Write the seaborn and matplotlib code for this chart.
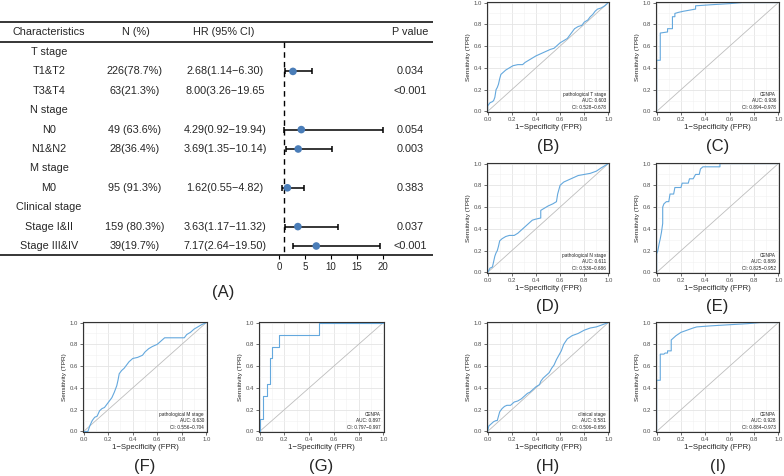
import numpy as np
import pandas as pd
import matplotlib
matplotlib.use("Agg")
import matplotlib.pyplot as plt
import seaborn as sns
from matplotlib.ticker import MultipleLocator, FormatStrFormatter

sns.set_theme(style="ticks")
plt.rcParams['font.family'] = ['Liberation Sans', 'DejaVu Sans']

# ---- forest table (A) ----
characteristics = ["T stage", "T1&T2", "T3&T4", "N stage", "N0", "N1&N2",
                   "M stage", "M0", "Clinical stage", "Stage I&II", "Stage III&IV"]
n_pct = ["", "226(78.7%)", "63(21.3%)", "", "49 (63.6%)", "28(36.4%)",
         "", "95 (91.3%)", "", "159 (80.3%)", "39(19.7%)"]
hr_text = ["", "2.68(1.14\u22126.30)", "8.00(3.26\u221219.65", "", "4.29(0.92\u221219.94)",
           "3.69(1.35\u221210.14)", "", "1.62(0.55\u22124.82)", "", "3.63(1.17\u221211.32)",
           "7.17(2.64\u221219.50)"]
p_text = ["", "0.034", "<0.001", "", "0.054", "0.003", "", "0.383", "", "0.037", "<0.001"]
# T3&T4 has no point drawn in the original figure
hr = [np.nan, 2.68, np.nan, np.nan, 4.29, 3.69, np.nan, 1.62, np.nan, 3.63, 7.17]
hr_lo = [np.nan, 1.14, np.nan, np.nan, 0.92, 1.35, np.nan, 0.55, np.nan, 1.17, 2.64]
hr_hi = [np.nan, 6.30, np.nan, np.nan, 19.94, 10.14, np.nan, 4.82, np.nan, 11.32, 19.50]
hr_ticks = [0, 5, 10, 15, 20]

# ---- ROC curves (FPR, TPR) ----
fpr_b = [0, 0, 0.02, 0.04, 0.05, 0.06, 0.07, 0.08, 0.09, 0.10, 0.11, 0.13, 0.15, 0.18, 0.21, 0.25, 0.29,
         0.31, 0.34, 0.37, 0.40, 0.44, 0.48, 0.52, 0.55, 0.57, 0.60, 0.63, 0.66, 0.68, 0.70, 0.72, 0.75,
         0.78, 0.80, 0.83, 0.85, 0.87, 0.89, 0.91, 0.94, 0.97, 1.0]
tpr_b = [0, 0.05, 0.08, 0.09, 0.10, 0.13, 0.20, 0.22, 0.25, 0.30, 0.34, 0.36, 0.38, 0.40, 0.42, 0.43, 0.43,
         0.45, 0.47, 0.49, 0.51, 0.53, 0.55, 0.57, 0.58, 0.60, 0.63, 0.65, 0.67, 0.70, 0.73, 0.76, 0.78,
         0.79, 0.82, 0.84, 0.87, 0.89, 0.92, 0.94, 0.95, 0.97, 1.0]
fpr_c = [0, 0, 0.03, 0.03, 0.09, 0.09, 0.13, 0.13, 0.15, 0.15, 0.18, 0.22, 0.27, 0.32, 0.32, 0.45, 0.6, 0.7, 1.0]
tpr_c = [0, 0.47, 0.47, 0.72, 0.73, 0.76, 0.76, 0.87, 0.87, 0.90, 0.91, 0.92, 0.93, 0.94, 0.97, 0.98, 0.99, 1.0, 1.0]
fpr_d = [0, 0.01, 0.02, 0.04, 0.05, 0.06, 0.07, 0.08, 0.09, 0.10, 0.12, 0.15, 0.18, 0.22, 0.25, 0.27, 0.29,
         0.31, 0.33, 0.35, 0.37, 0.40, 0.44, 0.44, 0.47, 0.50, 0.54, 0.57, 0.58, 0.60, 0.63, 0.67, 0.71,
         0.75, 0.80, 0.85, 0.90, 0.94, 0.97, 1.0]
tpr_d = [0, 0.02, 0.04, 0.05, 0.10, 0.15, 0.18, 0.20, 0.24, 0.29, 0.31, 0.33, 0.34, 0.34, 0.36, 0.38, 0.40,
         0.42, 0.44, 0.46, 0.48, 0.49, 0.50, 0.57, 0.59, 0.61, 0.63, 0.65, 0.72, 0.80, 0.83, 0.85, 0.87,
         0.89, 0.90, 0.91, 0.93, 0.96, 0.98, 1.0]
fpr_e = [0, 0, 0.01, 0.02, 0.03, 0.04, 0.05, 0.05, 0.06, 0.08, 0.10, 0.11, 0.14, 0.15, 0.20, 0.21, 0.26,
         0.27, 0.30, 0.32, 0.35, 0.36, 0.38, 0.52, 0.52, 1.0]
tpr_e = [0, 0.17, 0.20, 0.26, 0.31, 0.37, 0.45, 0.60, 0.63, 0.65, 0.65, 0.72, 0.72, 0.78, 0.78, 0.82, 0.82,
         0.86, 0.86, 0.90, 0.90, 0.95, 0.97, 0.97, 1.0, 1.0]
fpr_f = [0, 0.035, 0.05, 0.07, 0.09, 0.11, 0.13, 0.15, 0.17, 0.19, 0.21, 0.23, 0.25, 0.27, 0.28, 0.29, 0.31,
         0.33, 0.35, 0.37, 0.40, 0.44, 0.48, 0.50, 0.53, 0.56, 0.60, 0.64, 0.66, 0.72, 0.78, 0.82, 0.84,
         0.87, 0.90, 0.93, 0.96, 1.0]
tpr_f = [0, 0, 0.05, 0.10, 0.13, 0.14, 0.19, 0.21, 0.22, 0.25, 0.28, 0.31, 0.36, 0.42, 0.47, 0.53, 0.56,
         0.58, 0.61, 0.64, 0.67, 0.68, 0.70, 0.73, 0.76, 0.78, 0.80, 0.84, 0.86, 0.86, 0.86, 0.86, 0.89,
         0.91, 0.94, 0.96, 0.98, 1.0]
fpr_g = [0, 0, 0.027, 0.027, 0.06, 0.06, 0.085, 0.085, 0.10, 0.10, 0.16, 0.16, 0.48, 0.48, 1.0]
tpr_g = [0, 0.11, 0.11, 0.33, 0.33, 0.44, 0.44, 0.67, 0.67, 0.78, 0.78, 0.89, 0.89, 1.0, 1.0]
fpr_h = [0, 0.01, 0.03, 0.05, 0.07, 0.08, 0.09, 0.10, 0.12, 0.14, 0.16, 0.19, 0.22, 0.25, 0.28, 0.30, 0.33,
         0.35, 0.37, 0.40, 0.43, 0.44, 0.46, 0.49, 0.51, 0.53, 0.55, 0.57, 0.59, 0.61, 0.63, 0.66, 0.70,
         0.75, 0.80, 0.85, 0.90, 0.95, 1.0]
tpr_h = [0, 0.05, 0.07, 0.09, 0.10, 0.10, 0.14, 0.18, 0.21, 0.23, 0.24, 0.24, 0.27, 0.28, 0.30, 0.32, 0.35,
         0.36, 0.38, 0.41, 0.43, 0.46, 0.49, 0.52, 0.54, 0.58, 0.61, 0.66, 0.70, 0.74, 0.80, 0.85, 0.88,
         0.90, 0.93, 0.95, 0.96, 0.98, 1.0]
fpr_i = [0, 0, 0.03, 0.03, 0.06, 0.07, 0.09, 0.09, 0.12, 0.12, 0.14, 0.16, 0.20, 0.25, 0.30, 0.33, 0.45,
         0.60, 0.75, 0.85, 1.0]
tpr_i = [0, 0.47, 0.47, 0.71, 0.71, 0.72, 0.72, 0.74, 0.74, 0.84, 0.86, 0.88, 0.91, 0.93, 0.95, 0.96, 0.97,
         0.98, 0.99, 1.0, 1.0]

W, H = 784, 476
fig = plt.figure(figsize=(W / 100, H / 100), dpi=100)


def px_axes(x0, y0, x1, y1):
    return fig.add_axes([x0 / W, 1 - y1 / H, (x1 - x0) / W, (y1 - y0) / H])


# ---- (A) table ----
row_px0, row_step = 52, 19.4
rows = np.arange(len(characteristics))


def to_row(ypx):
    return (ypx - row_px0) / row_step


tab = px_axes(0, 0, 440, 280)
tab.set_xlim(0, 440)
tab.set_ylim(to_row(280), to_row(0))
tab.axis("off")
fs = 7.8
head_y = to_row(32)
for x, s in [(49, "Characteristics"), (136, "N (%)"), (224, "HR (95% CI)"), (410, "P value")]:
    tab.text(x, head_y, s, ha="center", va="center", fontsize=fs)
for i in rows:
    tab.text(49, i, characteristics[i], ha="center", va="center", fontsize=fs)
    tab.text(135, i, n_pct[i], ha="center", va="center", fontsize=fs)
    tab.text(225, i, hr_text[i], ha="center", va="center", fontsize=fs)
    tab.text(410, i, p_text[i], ha="center", va="center", fontsize=fs)
for ypx in (22, 42, 255):
    tab.plot([0, 433], [to_row(ypx)] * 2, color="black", lw=1.1, solid_capstyle="butt")

fax = px_axes(279, 22, 383, 255)
fax.set_xlim(0, 20)
fax.set_ylim(to_row(255), to_row(22))
fax.patch.set_alpha(0)
for sp in fax.spines.values():
    sp.set_visible(False)
fax.set_yticks([])
fax.set_xticks(hr_ticks)
fax.tick_params(axis="x", length=3, width=0.8, labelsize=7, pad=2, color="black")
fax.plot([1, 1], [to_row(42), to_row(255)], color="black", lw=1.0, ls=(0, (4, 3)))
forest = pd.DataFrame({"row": rows, "hr": hr, "lo": hr_lo, "hi": hr_hi}).dropna()
fax.errorbar(forest["hr"], forest["row"],
             xerr=[forest["hr"] - forest["lo"], forest["hi"] - forest["hr"]],
             fmt="none", ecolor="black", elinewidth=1.1, capsize=2.5, capthick=1.1)
sns.scatterplot(data=forest, x="hr", y="row", ax=fax, color="#4a7db8", s=30,
                edgecolor="none", zorder=3)
fax.set_xlabel("")
fax.set_ylabel("")
fig.text(223 / W, 1 - 293 / H, "(A)", ha="center", va="center", fontsize=12)

# ---- ROC panels ----
panels = [
    ("(B)", fpr_b, tpr_b, "pathological T stage", "AUC: 0.603", "CI: 0.528\u22120.678", (487, 2, 609, 112)),
    ("(C)", fpr_c, tpr_c, "CENPA", "AUC: 0.936", "CI: 0.894\u22120.978", (656, 2, 779, 112)),
    ("(D)", fpr_d, tpr_d, "pathological N stage", "AUC: 0.611", "CI: 0.536\u22120.686", (487, 163, 609, 273)),
    ("(E)", fpr_e, tpr_e, "CENPA", "AUC: 0.889", "CI: 0.825\u22120.952", (656, 163, 779, 273)),
    ("(F)", fpr_f, tpr_f, "pathological M stage", "AUC: 0.630", "CI: 0.556\u22120.704", (83, 322, 207, 432)),
    ("(G)", fpr_g, tpr_g, "CENPA", "AUC: 0.897", "CI: 0.797\u22120.997", (259, 322, 384, 432)),
    ("(H)", fpr_h, tpr_h, "clinical stage", "AUC: 0.581", "CI: 0.506\u22120.656", (487, 322, 609, 432)),
    ("(I)", fpr_i, tpr_i, "CENPA", "AUC: 0.928", "CI: 0.884\u22120.973", (656, 322, 779, 432)),
]

for label, fpr, tpr, name, auc, ci, box in panels:
    ax = px_axes(*box)
    ax.set_xlim(-0.005, 1.005)
    ax.set_ylim(-0.005, 1.005)
    ax.xaxis.set_major_locator(MultipleLocator(0.2))
    ax.yaxis.set_major_locator(MultipleLocator(0.2))
    ax.xaxis.set_minor_locator(MultipleLocator(0.1))
    ax.yaxis.set_minor_locator(MultipleLocator(0.1))
    ax.xaxis.set_major_formatter(FormatStrFormatter("%.1f"))
    ax.yaxis.set_major_formatter(FormatStrFormatter("%.1f"))
    ax.grid(which="major", color="#e4e4e4", lw=0.6)
    ax.grid(which="minor", color="#f1f1f1", lw=0.4)
    ax.set_axisbelow(True)
    ax.tick_params(which="major", length=2, width=0.5, color="#333333", labelsize=4.3,
                   labelcolor="#4d4d4d", pad=1.5)
    ax.tick_params(which="minor", length=0)
    for sp in ax.spines.values():
        sp.set_color("#333333")
        sp.set_linewidth(0.8)
    ax.plot([0, 1], [0, 1], color="#bdbdbd", lw=0.6)
    sns.lineplot(x=fpr, y=tpr, ax=ax, sort=False, estimator=None, color="#64a8dd", lw=0.8)
    ax.set_xlabel("1\u2212Specificity (FPR)", fontsize=5.6, labelpad=1.5)
    ax.set_ylabel("Sensitivity (TPR)", fontsize=4.6, labelpad=2)
    for k, s in enumerate([name, auc, ci]):
        ax.text(0.98, 0.16 - 0.06 * k, s, ha="right", va="center", fontsize=3.4, color="#222222")
    x0, y0, x1, y1 = box
    fig.text((x0 + x1) / 2 / W, 1 - (y1 + 34) / H, label, ha="center", va="center", fontsize=12)

fig.savefig("out.png", dpi=100)
